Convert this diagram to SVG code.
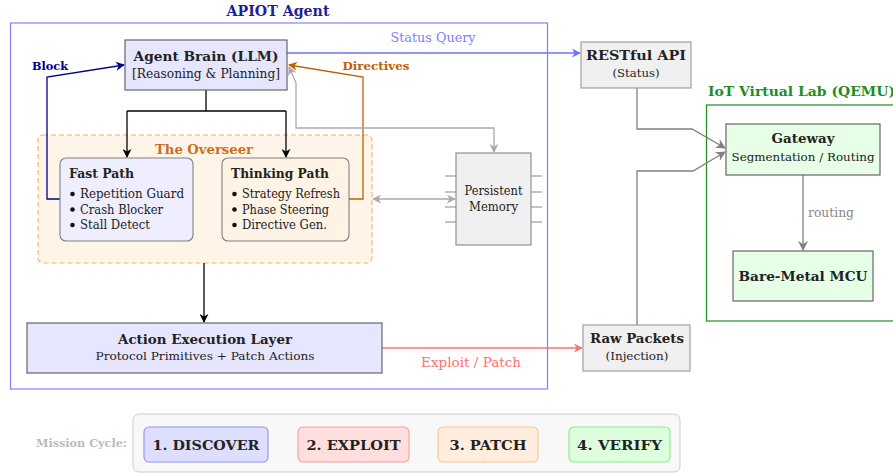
<svg xmlns="http://www.w3.org/2000/svg" width="893" height="474" viewBox="0 0 893 474">
<style>
text{font-family:"DejaVu Serif","Liberation Serif",serif;fill:#222}
.b{font-weight:bold}
.c{text-anchor:middle}
.node{stroke:#666;stroke-width:1.2}
.ln{fill:none;stroke-width:1.3}
</style>
<defs>
<marker id="aK" viewBox="0 0 10 10" refX="9" refY="5" markerWidth="9" markerHeight="9" markerUnits="userSpaceOnUse" orient="auto-start-reverse"><path d="M0,0 L10,5 L0,10 L3,5 z" fill="#000"/></marker>
<marker id="aB" viewBox="0 0 10 10" refX="9" refY="5" markerWidth="9" markerHeight="9" markerUnits="userSpaceOnUse" orient="auto-start-reverse"><path d="M0,0 L10,5 L0,10 L3,5 z" fill="#00008b"/></marker>
<marker id="aO" viewBox="0 0 10 10" refX="9" refY="5" markerWidth="9" markerHeight="9" markerUnits="userSpaceOnUse" orient="auto-start-reverse"><path d="M0,0 L10,5 L0,10 L3,5 z" fill="#c06000"/></marker>
<marker id="aG" viewBox="0 0 10 10" refX="9" refY="5" markerWidth="9" markerHeight="9" markerUnits="userSpaceOnUse" orient="auto-start-reverse"><path d="M0,0 L10,5 L0,10 L3,5 z" fill="#aaa"/></marker>
<marker id="aD" viewBox="0 0 10 10" refX="9" refY="5" markerWidth="10" markerHeight="10" markerUnits="userSpaceOnUse" orient="auto-start-reverse"><path d="M0,0 L10,5 L0,10 L3,5 z" fill="#808080"/></marker>
<marker id="aS" viewBox="0 0 10 10" refX="9" refY="5" markerWidth="9" markerHeight="9" markerUnits="userSpaceOnUse" orient="auto-start-reverse"><path d="M0,0 L10,5 L0,10 L3,5 z" fill="#7070ff"/></marker>
<marker id="aR" viewBox="0 0 10 10" refX="9" refY="5" markerWidth="9" markerHeight="9" markerUnits="userSpaceOnUse" orient="auto-start-reverse"><path d="M0,0 L10,5 L0,10 L3,5 z" fill="#ff7070"/></marker>
</defs>

<g id="apiot-agent">
<rect x="10.5" y="23" width="537" height="366" fill="none" stroke="#8080ff" stroke-width="1.2"/>
<text x="278" y="16" class="b c" font-size="14" style="fill:#1f1f99" textLength="103" lengthAdjust="spacingAndGlyphs">APIOT Agent</text>
</g>

<g id="iot-lab">
<rect x="706.5" y="105" width="200" height="216" fill="none" stroke="#1e8c1e" stroke-width="1.2"/>
<text x="708" y="96" class="b" font-size="13" style="fill:#1e8c1e" textLength="187" lengthAdjust="spacingAndGlyphs">IoT Virtual Lab (QEMU)</text>
</g>

<g id="overseer">
<rect x="38" y="135" width="334" height="128" rx="5" fill="#fff4e8" stroke="#ffb060" stroke-width="1.1" stroke-dasharray="5,3"/>
<text x="204" y="154" class="b c" font-size="13" style="fill:#c87020" textLength="98" lengthAdjust="spacingAndGlyphs">The Overseer</text>
</g>

<g id="connectors">
<path class="ln" d="M206,90 V111" stroke="#000"/>
<path class="ln" d="M127,111 H286" stroke="#000"/>
<path class="ln" d="M127,111 V157" stroke="#000" marker-end="url(#aK)"/>
<path class="ln" d="M286,111 V157" stroke="#000" marker-end="url(#aK)"/>
<path class="ln" d="M204,263 V322" stroke="#000" marker-end="url(#aK)"/>
<path class="ln" d="M60,199 H47 V77 L124,65" stroke="#00008b" marker-end="url(#aB)"/>
<path class="ln" d="M349,199 H363 V77 L289,65" stroke="#c06000" marker-end="url(#aO)"/>
<path class="ln" d="M494,152 V128 H296 V83 L289,67" stroke="#aaa" marker-start="url(#aG)" marker-end="url(#aG)"/>
<path class="ln" d="M373,199 H455" stroke="#aaa" marker-start="url(#aG)" marker-end="url(#aG)"/>
<path class="ln" d="M287,53 H580" stroke="#7070ff" marker-end="url(#aS)"/>
<text x="433" y="42" class="c" font-size="12.5" style="fill:#8080ff" textLength="85" lengthAdjust="spacingAndGlyphs">Status Query</text>
<path class="ln" d="M382,348 H582" stroke="#ff7070" stroke-width="1.5" marker-end="url(#aR)"/>
<text x="471" y="367" class="c" font-size="12.5" style="fill:#ff7070" textLength="100" lengthAdjust="spacingAndGlyphs">Exploit / Patch</text>
<path class="ln" d="M637,88 V129 H692 L725,148" stroke="#808080" marker-end="url(#aD)"/>
<path class="ln" d="M637,325 V171 H693 L725,152" stroke="#808080" marker-end="url(#aD)"/>
<path class="ln" d="M803,175 V250" stroke="#808080" marker-end="url(#aD)"/>
<text x="808" y="217" font-size="12" style="fill:#888" textLength="46" lengthAdjust="spacingAndGlyphs">routing</text>
<text x="50" y="70" class="b c" font-size="11.5" style="fill:#00008b" textLength="36" lengthAdjust="spacingAndGlyphs">Block</text>
<text x="376" y="70" class="b c" font-size="11.5" style="fill:#c06000" textLength="67" lengthAdjust="spacingAndGlyphs">Directives</text>
<path class="ln" d="M268,444 H297" stroke="#aaa" marker-end="url(#aG)"/>
<path class="ln" d="M409,444 H437" stroke="#aaa" marker-end="url(#aG)"/>
<path class="ln" d="M538,444 H568" stroke="#aaa" marker-end="url(#aG)"/>
</g>

<g id="agent-brain">
<rect x="125" y="40" width="162" height="50" class="node" fill="#e6e6ff"/>
<text x="206" y="61" class="b c" font-size="13.5" textLength="145" lengthAdjust="spacingAndGlyphs">Agent Brain (LLM)</text>
<text x="206" y="78" class="c" font-size="13" textLength="148" lengthAdjust="spacingAndGlyphs">[Reasoning &amp; Planning]</text>
</g>

<g id="fast-path">
<rect x="60" y="158" width="133" height="83" rx="6" fill="#eeeeff" stroke="#808080" stroke-width="1.1"/>
<text x="69" y="178" class="b" font-size="12" textLength="65" lengthAdjust="spacingAndGlyphs">Fast Path</text>
<circle cx="72.5" cy="194" r="2.3" fill="#111"/>
<text x="80" y="198" font-size="12.5" textLength="104" lengthAdjust="spacingAndGlyphs">Repetition Guard</text>
<circle cx="72.5" cy="209.5" r="2.3" fill="#111"/>
<text x="80" y="213.5" font-size="12.5" textLength="83" lengthAdjust="spacingAndGlyphs">Crash Blocker</text>
<circle cx="72.5" cy="225" r="2.3" fill="#111"/>
<text x="80" y="229" font-size="12.5" textLength="70" lengthAdjust="spacingAndGlyphs">Stall Detect</text>
</g>

<g id="thinking-path">
<rect x="222" y="158" width="127" height="83" rx="6" fill="#fff3e6" stroke="#808080" stroke-width="1.1"/>
<text x="231" y="178" class="b" font-size="12" textLength="98" lengthAdjust="spacingAndGlyphs">Thinking Path</text>
<circle cx="234.5" cy="194" r="2.3" fill="#111"/>
<text x="242" y="198" font-size="12.5" textLength="98" lengthAdjust="spacingAndGlyphs">Strategy Refresh</text>
<circle cx="234.5" cy="209.5" r="2.3" fill="#111"/>
<text x="242" y="213.5" font-size="12.5" textLength="87" lengthAdjust="spacingAndGlyphs">Phase Steering</text>
<circle cx="234.5" cy="225" r="2.3" fill="#111"/>
<text x="242" y="229" font-size="12.5" textLength="85" lengthAdjust="spacingAndGlyphs">Directive Gen.</text>
</g>

<g id="persistent-memory">
<path d="M445,176 H456 M445,192 H456 M445,207 H456 M445,222 H456 M531,176 H542 M531,192 H542 M531,207 H542 M531,222 H542" stroke="#888" stroke-width="1.1"/>
<rect x="456" y="153" width="75" height="92" fill="#f0f0f0" stroke="#888" stroke-width="1.1"/>
<text x="493.5" y="195" class="c" font-size="12" textLength="58" lengthAdjust="spacingAndGlyphs">Persistent</text>
<text x="493.5" y="211" class="c" font-size="12" textLength="49" lengthAdjust="spacingAndGlyphs">Memory</text>
</g>

<g id="action-layer">
<rect x="27" y="323" width="355" height="50" class="node" fill="#e6e6ff"/>
<text x="205" y="344" class="b c" font-size="13" textLength="174" lengthAdjust="spacingAndGlyphs">Action Execution Layer</text>
<text x="205" y="360" class="c" font-size="11.5" textLength="219" lengthAdjust="spacingAndGlyphs">Protocol Primitives + Patch Actions</text>
</g>

<g id="restful-api">
<rect x="581" y="42" width="110" height="46" fill="#f0f0f0" stroke="#999" stroke-width="1.1"/>
<text x="636" y="60" class="b c" font-size="13" textLength="100" lengthAdjust="spacingAndGlyphs">RESTful API</text>
<text x="636" y="77" class="c" font-size="11.5" textLength="47" lengthAdjust="spacingAndGlyphs">(Status)</text>
</g>

<g id="raw-packets">
<rect x="583" y="325" width="107" height="46" fill="#f0f0f0" stroke="#999" stroke-width="1.1"/>
<text x="637" y="343" class="b c" font-size="13" textLength="94" lengthAdjust="spacingAndGlyphs">Raw Packets</text>
<text x="637" y="360" class="c" font-size="11.5" textLength="63" lengthAdjust="spacingAndGlyphs">(Injection)</text>
</g>

<g id="gateway">
<rect x="726" y="124" width="154" height="51" class="node" fill="#e6ffe6"/>
<text x="803" y="143" class="b c" font-size="12.5" textLength="63" lengthAdjust="spacingAndGlyphs">Gateway</text>
<text x="803" y="161" class="c" font-size="11.5" textLength="143" lengthAdjust="spacingAndGlyphs">Segmentation / Routing</text>
</g>

<g id="mcu">
<rect x="733" y="251" width="140" height="50" class="node" fill="#e6ffe6"/>
<text x="803" y="281" class="b c" font-size="13" textLength="129" lengthAdjust="spacingAndGlyphs">Bare-Metal MCU</text>
</g>

<g id="mission-cycle">
<rect x="133" y="414" width="547" height="58" rx="6" fill="#f8f8f8" stroke="#ccc" stroke-width="1"/>
<text x="81.5" y="447" class="b c" font-size="10.5" style="fill:#bbb" textLength="91" lengthAdjust="spacingAndGlyphs">Mission Cycle:</text>
</g>
<g id="discover">
<rect x="144" y="427" width="124" height="35" rx="5" fill="#dedeff" stroke="#9090ff" stroke-width="1.1"/>
<text x="206" y="449.5" class="b c" font-size="13" textLength="107" lengthAdjust="spacingAndGlyphs">1. DISCOVER</text>
</g>
<g id="exploit">
<rect x="298" y="427" width="111" height="35" rx="5" fill="#ffdede" stroke="#ff9a9a" stroke-width="1.1"/>
<text x="353.5" y="449.5" class="b c" font-size="13" textLength="94" lengthAdjust="spacingAndGlyphs">2. EXPLOIT</text>
</g>
<g id="patch">
<rect x="438" y="427" width="100" height="35" rx="5" fill="#ffeedd" stroke="#ffc488" stroke-width="1.1"/>
<text x="488" y="449.5" class="b c" font-size="13" textLength="77" lengthAdjust="spacingAndGlyphs">3. PATCH</text>
</g>
<g id="verify">
<rect x="569" y="427" width="101" height="35" rx="5" fill="#deffde" stroke="#88ee88" stroke-width="1.1"/>
<text x="619.5" y="449.5" class="b c" font-size="13" textLength="85" lengthAdjust="spacingAndGlyphs">4. VERIFY</text>
</g>
</svg>
